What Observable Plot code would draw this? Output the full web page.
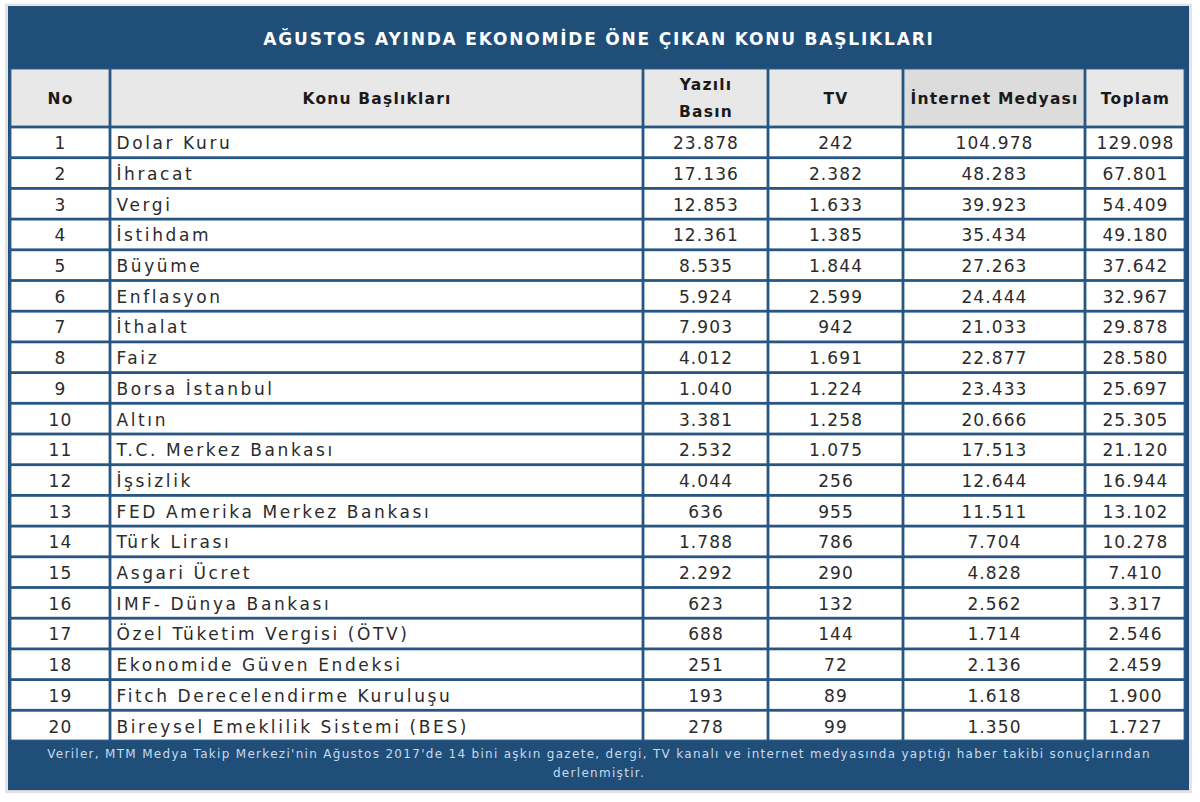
<!DOCTYPE html>
<html><head><meta charset="utf-8">
<script src="https://cdn.jsdelivr.net/npm/d3@7"></script>
<script src="https://cdn.jsdelivr.net/npm/@observablehq/plot@0.6"></script>
<style>
html,body{margin:0;padding:0;background:#fff;}
svg{display:block;}
</style></head><body>
<div id="chart"></div>
<script>
// ---- data ----
const title = "AĞUSTOS AYINDA EKONOMİDE ÖNE ÇIKAN KONU BAŞLIKLARI";
const headers = ["No", "Konu Başlıkları", "Yazılı\nBasın", "TV", "İnternet Medyası", "Toplam"];
const ranks = [1,2,3,4,5,6,7,8,9,10,11,12,13,14,15,16,17,18,19,20];
const topics = ["Dolar Kuru","İhracat","Vergi","İstihdam","Büyüme","Enflasyon","İthalat","Faiz","Borsa İstanbul","Altın","T.C. Merkez Bankası","İşsizlik","FED Amerika Merkez Bankası","Türk Lirası","Asgari Ücret","IMF- Dünya Bankası","Özel Tüketim Vergisi (ÖTV)","Ekonomide Güven Endeksi","Fitch Derecelendirme Kuruluşu","Bireysel Emeklilik Sistemi (BES)"];
const yaziliBasin = [23878,17136,12853,12361,8535,5924,7903,4012,1040,3381,2532,4044,636,1788,2292,623,688,251,193,278];
const tvValues = [242,2382,1633,1385,1844,2599,942,1691,1224,1258,1075,256,955,786,290,132,144,72,89,99];
const internetMedyasi = [104978,48283,39923,35434,27263,24444,21033,22877,23433,20666,17513,12644,11511,7704,4828,2562,1714,2136,1618,1350];
const toplam = [129098,67801,54409,49180,37642,32967,29878,28580,25697,25305,21120,16944,13102,10278,7410,3317,2546,2459,1900,1727];
const noteLines = ["Veriler, MTM Medya Takip Merkezi'nin Ağustos 2017'de 14 bini aşkın gazete, dergi, TV kanalı ve internet medyasında yaptığı haber takibi sonuçlarından", "derlenmiştir."];

// ---- layout (not data) ----
const W = 1200, H = 802;
const colEdges = [10, 110, 643, 768, 903, 1085, 1185];
const frame = {x1: 8, x2: 1189};
const titleTop = -3.94, headerTop = -1.92, footerBottom = 21.6;
const navy = "#1f4e79";
const grid = "#285684";

const fmt = d3.formatLocale({decimal: ",", thousands: ".", grouping: [3], currency: ["", ""]}).format(",d");

const rows = ranks.map((r, i) => [String(r), topics[i], fmt(yaziliBasin[i]), fmt(tvValues[i]), fmt(internetMedyasi[i]), fmt(toplam[i])]);

const cells = [];
rows.forEach((row, i) => row.forEach((t, c) => cells.push({
  x1: colEdges[c], x2: colEdges[c + 1], y1: i, y2: i + 1, text: t, col: c
})));
const headCells = headers.map((t, c) => ({x1: colEdges[c], x2: colEdges[c + 1], y1: headerTop, y2: 0, text: t, col: c}));

const plot = Plot.plot({
  width: W, height: H,
  margin: 0,
  x: {type: "linear", domain: [0, W], range: [0, W], axis: null},
  y: {type: "linear", domain: [-127 / 30.7, (H - 127) / 30.7], range: [0, H], axis: null},
  style: {fontFamily: "'DejaVu Sans', sans-serif", background: "#fff"},
  marks: [
    Plot.rect([0], {x1: frame.x1 - 3, x2: frame.x2 + 3, y1: titleTop - 0.08, y2: footerBottom + 0.1, fill: "#e3e3e3"}),
    Plot.rect([0], {x1: frame.x1, x2: frame.x2, y1: titleTop, y2: footerBottom, fill: navy}),
    Plot.rect([0], {x1: colEdges[0] - 1, x2: colEdges[6] + 1, y1: headerTop, y2: 20, fill: grid}),
    Plot.rect(headCells, {x1: "x1", x2: "x2", y1: "y1", y2: "y2", fill: d => d.col === 4 ? "#dcdcdc" : "#e8e8e8", inset: 1.4}),
    Plot.rect(cells, {x1: "x1", x2: "x2", y1: "y1", y2: "y2", fill: "#ffffff", inset: 1.4}),
    Plot.text([title], {x: (frame.x1 + frame.x2) / 2, y: (titleTop + headerTop) / 2 + 0.05, text: d => d, fill: "#ffffff", fontSize: 17, fontWeight: 700}),
    Plot.text(headCells, {x: d => (d.x1 + d.x2) / 2, y: d => (d.y1 + d.y2) / 2 - 0.09, text: "text", fill: "#1a1a1a", fontSize: 15.5, fontWeight: 700, lineHeight: 1.75}),
    Plot.text(cells.filter(d => d.col !== 1), {x: d => (d.x1 + d.x2) / 2, y: d => (d.y1 + d.y2) / 2 + 0.03, text: "text", fill: "#2b2b2b", fontSize: 17}),
    Plot.text(cells.filter(d => d.col === 1), {x: d => d.x1 + 6, y: d => (d.y1 + d.y2) / 2 + 0.03, text: "text", textAnchor: "start", fill: "#2b2b2b", fontSize: 17}),
    Plot.text(noteLines, {x: (frame.x1 + frame.x2) / 2, y: (d, i) => 20 + 0.4 + i * 0.62, text: d => d, fill: "#c9d9ec", fontSize: 12})
  ]
});
// letter spacing per text mark (title, header, numbers, topics, note)
const spacing = [1.8, 1.2, 1.1, 2.6, 1.3];
d3.select(plot).selectAll("g[aria-label='text']").each(function(_, i) {
  d3.select(this).attr("letter-spacing", spacing[i]);
});
document.getElementById("chart").append(plot);
</script>
</body></html>
